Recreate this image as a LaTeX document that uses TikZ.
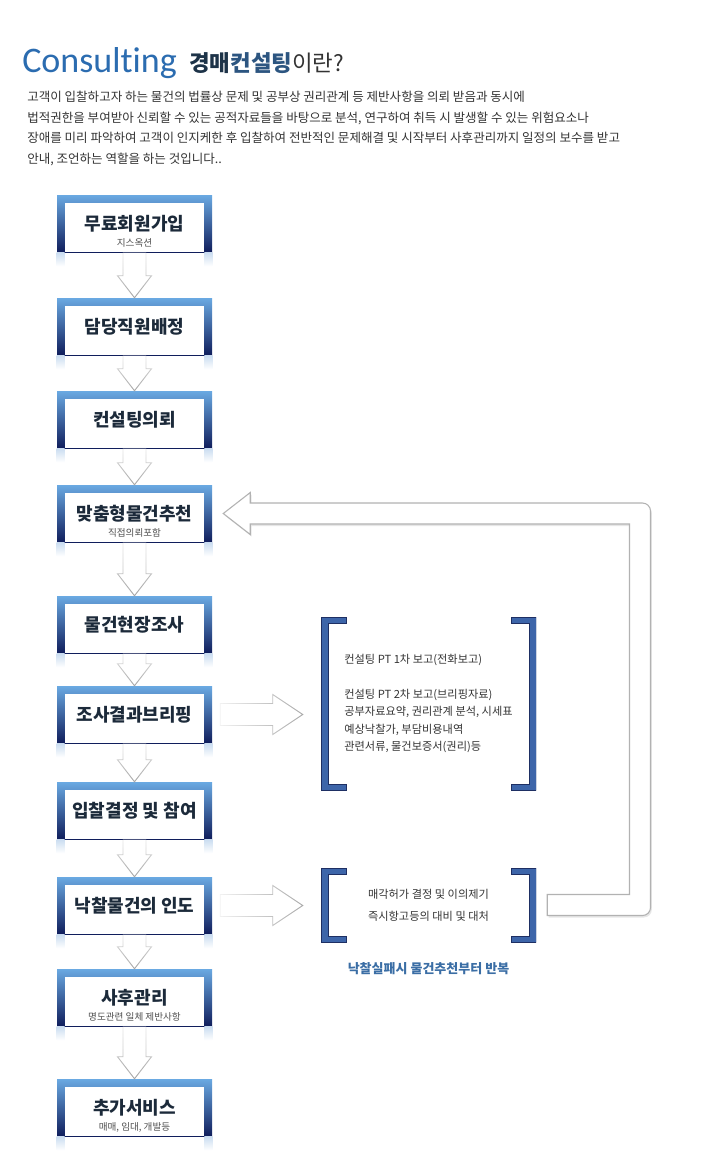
\documentclass[tikz,border=0pt]{standalone}
\usepackage{fontspec}
\setmainfont{Noto Sans CJK KR}
\newfontfamily\latfont[Ligatures=NoCommon]{Carlito}
\usetikzlibrary{calc,fadings,shadows}

\newlength\unitpx
\setlength\unitpx{0.75pt}

\definecolor{boxtop}{HTML}{6AA9E2}
\definecolor{boxbot}{HTML}{101E5C}
\definecolor{titlecol}{HTML}{1C2A3A}
\definecolor{subcol}{HTML}{505050}
\definecolor{bodycol}{HTML}{333333}
\definecolor{brkfill}{HTML}{3D65A9}
\definecolor{brkedge}{HTML}{1E2F63}
\definecolor{headblue}{HTML}{2B6CB0}
\definecolor{headnavy}{HTML}{1D3348}
\definecolor{headmid}{HTML}{2C5580}
\definecolor{capcol}{HTML}{3B6EA5}
\definecolor{reflect}{HTML}{C9DCF0}

\tikzfading[name=fadein right, left color=transparent!85, middle color=transparent!15, right color=transparent!0]
\tikzfading[name=fadein down, top color=transparent!75, bottom color=transparent!0]

\begin{document}
\begin{tikzpicture}[x=0.75pt, y=-0.75pt, every node/.style={inner sep=0pt},
    stepbox/.style={rectangle, minimum width=155\unitpx, minimum height=57\unitpx,
        top color=boxtop, bottom color=boxbot, text=titlecol,
        font=\bfseries\fontsize{13.5}{15}\selectfont,
        path picture={\fill[white] ($(path picture bounding box.south west)+(8,0)$)
            rectangle ($(path picture bounding box.north east)+(-8,8)$);}},
    subtxt/.style={text=subcol, font=\fontsize{7.2}{8}\selectfont},
    brkbox/.style={rectangle, minimum width=215\unitpx, text=bodycol,
        path picture={
            \filldraw[fill=brkfill, draw=brkedge, line width=0.6pt]
                (path picture bounding box.north west) -- ++(25,0) -- ++(0,6) -- ++(-18,0)
                -- ($(path picture bounding box.south west)+(7,-6)$) -- ++(18,0) -- ++(0,6) -- ++(-25,0) -- cycle;
            \filldraw[fill=brkfill, draw=brkedge, line width=0.6pt]
                (path picture bounding box.north east) -- ++(-25,0) -- ++(0,6) -- ++(18,0)
                -- ($(path picture bounding box.south east)+(-7,-6)$) -- ++(-18,0) -- ++(0,6) -- ++(25,0) -- cycle;}},
    downarr/.style={fill=white, draw=black!35, line width=0.7pt, path fading=fadein down,
        to path={($(\tikztostart)+(-11.5,0)$) -- ($(\tikztotarget)+(-11.5,-22)$)
            -- ($(\tikztotarget)+(-17,-22)$) -- (\tikztotarget) -- ($(\tikztotarget)+(17,-22)$)
            -- ($(\tikztotarget)+(11.5,-22)$) -- ($(\tikztostart)+(11.5,0)$) -- cycle}},
    rightarr/.style={fill=white, draw=black!35, line width=0.7pt, path fading=fadein right,
        to path={($(\tikztostart)+(0,-11)$) -- ($(\tikztotarget)+(-30,-11)$)
            -- ($(\tikztotarget)+(-30,-20)$) -- (\tikztotarget) -- ($(\tikztotarget)+(-30,20)$)
            -- ($(\tikztotarget)+(-30,11)$) -- ($(\tikztostart)+(0,11)$) -- cycle}},
    fbarrow/.style={fill=white, draw=black!30, line width=0.8pt,
        drop shadow={opacity=0.2, shadow xshift=1pt, shadow yshift=-1.5pt}}]

    \useasboundingbox (0,0) rectangle (716,1168);

    % heading
    \node[anchor=base west, text=headblue, font=\latfont\fontsize{27}{30}\selectfont] (cons) at (22,72) {Consulting};
    \node[anchor=base west, font=\fontsize{16.8}{18}\selectfont] (what) at (189,71)
        {\textbf{\color{headnavy}경매\color{headmid}컨설팅}\color{bodycol}이란?};
    \node[anchor=north west, align=left, text=bodycol, font=\fontsize{9.4}{15.4}\selectfont] (intro) at (27,91)
        {고객이 입찰하고자 하는 물건의 법률상 문제 및 공부상 권리관계 등 제반사항을 의뢰 받음과 동시에\\
         법적권한을 부여받아 신뢰할 수 있는 공적자료들을 바탕으로 분석, 연구하여 취득 시 발생할 수 있는 위험요소나\\
         장애를 미리 파악하여 고객이 인지케한 후 입찰하여 전반적인 문제해결 및 시작부터 사후관리까지 일정의 보수를 받고\\
         안내, 조언하는 역할을 하는 것입니다..};

    % steps
    \node[stepbox] (b1) at (134.5,223.5) {무료회원가입};
    \node[stepbox] (b2) at (134.5,326.5) {담당직원배정};
    \node[stepbox] (b3) at (134.5,419.5) {컨설팅의뢰};
    \node[stepbox] (b4) at (134.5,513.5) {맞춤형물건추천};
    \node[stepbox] (b5) at (134.5,624.5) {물건현장조사};
    \node[stepbox] (b6) at (134.5,714.5) {조사결과브리핑};
    \node[stepbox] (b7) at (134.5,810.5) {입찰결정 및 참여};
    \node[stepbox] (b8) at (134.5,905.5) {낙찰물건의 인도};
    \node[stepbox] (b9) at (134.5,997.5) {사후관리};
    \node[stepbox] (b10) at (134.5,1107.5) {추가서비스};

    \node[subtxt] (s1) at ($(b1.center)+(0,19.5)$) {지스옥션};
    \node[subtxt] (s4) at ($(b4.center)+(0,19.5)$) {직접의뢰포함};
    \node[subtxt] (s9) at ($(b9.center)+(0,19.5)$) {명도관련 일체 제반사항};
    \node[subtxt] (s10) at ($(b10.center)+(0,19.5)$) {매매, 임대, 개발등};

    \foreach \b in {b1,b2,b3,b4,b5,b6,b7,b8,b9,b10} {
        \shade[top color=reflect, bottom color=white] (\b.south west) rectangle ($(\b.south west)+(8,14)$);
        \shade[top color=reflect, bottom color=white] ($(\b.south east)+(-8,0)$) rectangle ($(\b.south east)+(0,14)$);
    }

    % report brackets
    \node[brkbox, minimum height=173\unitpx, align=left, font=\fontsize{8.4}{13.1}\selectfont] (r1) at (428.5,703.5)
        {컨설팅 PT 1차 보고(전화보고)\\[13.1pt]
         컨설팅 PT 2차 보고(브리핑자료)\\
         공부자료요약, 권리관계 분석, 시세표\\
         예상낙찰가, 부담비용내역\\
         관련서류, 물건보증서(권리)등};
    \node[brkbox, minimum height=74\unitpx, align=center, font=\fontsize{8.4}{16.5}\selectfont] (r2) at (428.5,905)
        {매각허가 결정 및 이의제기\\
         즉시항고등의 대비 및 대처};
    \node[text=capcol, font=\bfseries\fontsize{9.75}{11}\selectfont] (cap) at ($(r2.south)+(0,26)$)
        {낙찰실패시 물건추천부터 반복};

    % flow arrows
    \draw[downarr] (b1.south) to (b2.north);
    \draw[downarr] (b2.south) to (b3.north);
    \draw[downarr] (b3.south) to (b4.north);
    \draw[downarr] (b4.south) to (b5.north);
    \draw[downarr] (b5.south) to (b6.north);
    \draw[downarr] (b6.south) to (b7.north);
    \draw[downarr] (b7.south) to (b8.north);
    \draw[downarr] (b8.south) to (b9.north);
    \draw[downarr] (b9.south) to (b10.north);

    \draw[rightarr] ($(b6.east)+(8,0)$) to ($(b6.east -| r1.west)+(-18,0)$);
    \draw[rightarr] ($(b8.east)+(8,0)$) to ($(b8.east -| r2.west)+(-18,0)$);

    % back to step 4
    \coordinate (fbstart) at ($(r2.east)+(11,0)$);
    \coordinate (fbtip) at ($(b4.east)+(11,0)$);
    \coordinate (fbturn) at (640,700);
    \draw[fbarrow] ($(fbstart)+(0,10.5)$) [rounded corners=6pt]
        -- ($(fbturn |- fbstart)+(10.5,10.5)$) -- ($(fbturn |- fbtip)+(10.5,-10.5)$) [sharp corners]
        -- ($(fbtip)+(27,-10.5)$) -- ($(fbtip)+(27,-21)$) -- (fbtip) -- ($(fbtip)+(27,21)$)
        -- ($(fbtip)+(27,10.5)$) -- ($(fbturn |- fbtip)+(-10.5,10.5)$)
        -- ($(fbturn |- fbstart)+(-10.5,-10.5)$) -- ($(fbstart)+(0,-10.5)$) -- cycle;
\end{tikzpicture}
\end{document}
